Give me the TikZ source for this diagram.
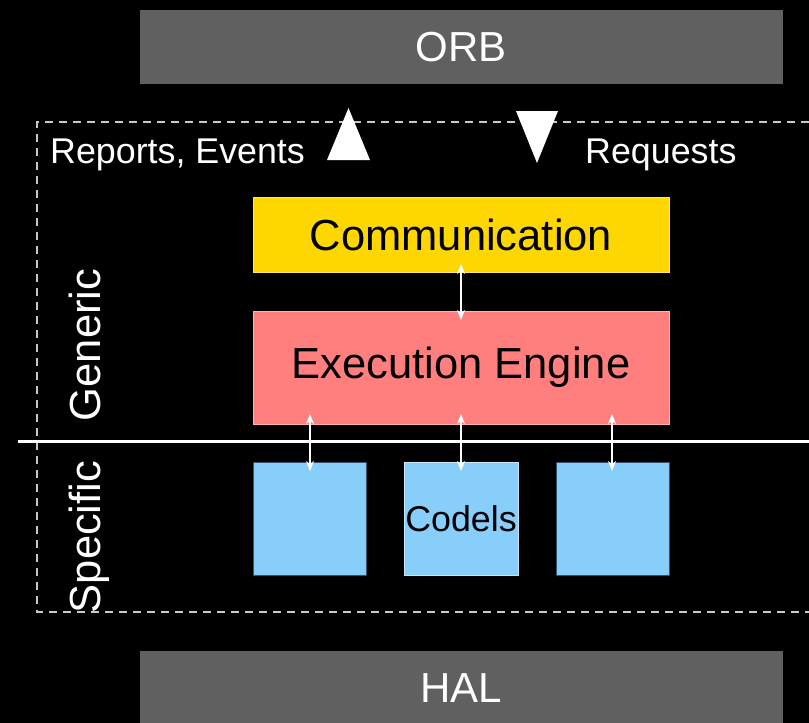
\documentclass[tikz,border=0pt]{standalone}
\usepackage{fontspec}
\setmainfont{Liberation Sans}
\usetikzlibrary{arrows.meta}
\definecolor{halgray}{HTML}{606060}
\definecolor{commyellow}{HTML}{FFD700}
\definecolor{engred}{HTML}{FF7F7F}
\definecolor{codblue}{HTML}{87CEFA}
\definecolor{dashgray}{HTML}{C8C8C8}
\begin{document}
\begin{tikzpicture}[x=1pt,y=-1pt,
  bar/.style={fill=halgray,draw=none,text=white,inner sep=0pt},
  blockbox/.style={draw=#1!60!white,line width=0.8pt,inner sep=0pt,text=black},
  dblarrow/.style={white,line width=1.4pt,{Stealth[length=10pt,width=8pt]}-{Stealth[length=10pt,width=8pt]}},
  big/.style={font=\fontsize{42}{50}\selectfont},
  bigger/.style={font=\fontsize{43.5}{52}\selectfont},
  mid/.style={font=\fontsize{35.8}{43}\selectfont}]
\fill[black] (0,0) rectangle (809,723);
\useasboundingbox (0,0) rectangle (809,723);
% bars
\node[bar,big,minimum width=643pt,minimum height=74pt] (orb) at (461.5,47) {ORB};
\node[bar,big,minimum width=643pt,minimum height=74pt] (hal) at (461.5,688) {HAL};
% dashed frame
\draw[dashgray,dashed,dash pattern=on 8pt off 6pt,line width=1.3pt] (809,122) -- (37,122) -- (37,612) -- (809,612);
% separator
\draw[white,line width=3pt] (18,441) -- (809,441);
% blocks
\node[blockbox=commyellow,fill=commyellow,bigger,minimum width=416pt,minimum height=75pt] (comm) at (461,234.5) {Communication};
\node[blockbox=engred,fill=engred,bigger,minimum width=416pt,minimum height=113pt] (eng) at (461,367.5) {Execution Engine};
\node[draw={rgb,255:red,50;green,80;blue,110},line width=0.8pt,fill=codblue,minimum width=113pt,minimum height=113pt,inner sep=0pt] (c1) at (309.5,518.5) {};
\node[draw=codblue!50!white,line width=0.8pt,fill=codblue,mid,minimum width=114pt,minimum height=113pt,inner sep=0pt] (c2) at (461,518.5) {Codels};
\node[draw={rgb,255:red,50;green,80;blue,110},line width=0.8pt,fill=codblue,minimum width=113pt,minimum height=113pt,inner sep=0pt] (c3) at (612.5,518.5) {};
% arrows
\coordinate (a1) at (461,264);
\coordinate (a2) at (461,320);
\draw[dblarrow] (a1) -- (a2);
\coordinate (b1t) at (310,414); \coordinate (b1b) at (310,471);
\coordinate (b2t) at (461,414); \coordinate (b2b) at (461,471);
\coordinate (b3t) at (612,414); \coordinate (b3b) at (612,471);
\draw[dblarrow] (b1t) -- (b1b);
\draw[dblarrow] (b2t) -- (b2b);
\draw[dblarrow] (b3t) -- (b3b);
% triangles
\fill[white] (348.5,108) -- (370,160) -- (327,160) -- cycle;
\fill[white] (516,111) -- (558,111) -- (537,163) -- cycle;
% labels
\node[mid,text=white,anchor=base west,inner sep=0pt] (rep) at (50,163) {Reports, Events};
\node[mid,text=white,anchor=base west,inner sep=0pt] (req) at (585,163) {Requests};
\node[bigger,text=white,rotate=90,anchor=base,inner sep=0pt] (gen) at (100,345) {Generic};
\node[bigger,text=white,rotate=90,anchor=base,inner sep=0pt] (spe) at (100,537) {Specific};
\end{tikzpicture}
\end{document}
